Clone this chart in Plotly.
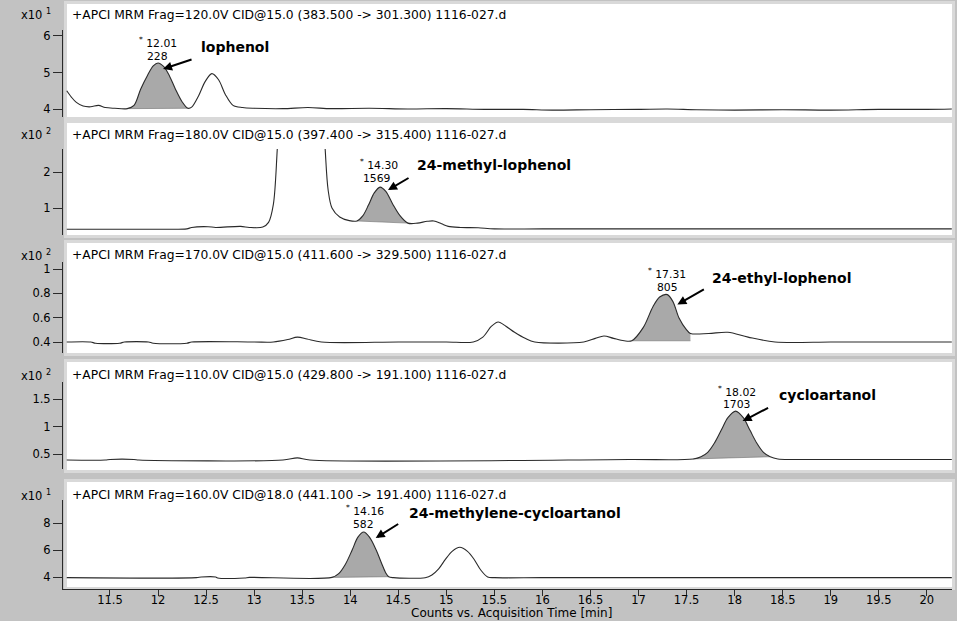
import plotly.graph_objects as go

W, H = 957, 621

# ---------------- data ----------------
# Panel 1: x10^1 counts
t1 = [11.05, 11.10, 11.15, 11.22, 11.30, 11.38, 11.45, 11.55, 11.68, 11.75, 11.82, 11.89, 11.95,
      12.00, 12.06, 12.12, 12.18, 12.25, 12.31, 12.35, 12.42, 12.49, 12.56, 12.63, 12.70, 12.78,
      12.88, 13.00, 13.30, 13.56, 13.80, 14.20, 14.60, 15.00, 15.40, 15.80, 16.10, 16.50, 17.00,
      17.30, 17.60, 18.00, 18.50, 19.00, 19.50, 20.00, 20.26]
v1 = [4.50, 4.32, 4.18, 4.08, 4.06, 4.10, 4.04, 4.02, 4.01, 4.10, 4.55, 4.92, 5.18,
      5.26, 5.16, 4.90, 4.55, 4.20, 4.02, 4.05, 4.35, 4.75, 4.97, 4.80, 4.40, 4.10,
      4.04, 4.02, 4.01, 4.04, 4.01, 4.02, 4.00, 4.01, 3.99, 3.99, 3.97, 3.98, 3.99,
      4.00, 3.98, 3.97, 3.98, 3.97, 3.99, 3.99, 4.00]

# Panel 2: x10^2 counts
t2 = [11.05, 11.50, 12.00, 12.30, 12.35, 12.52, 12.60, 12.86, 12.95, 13.09, 13.15, 13.20, 13.24,
      13.30, 13.48, 13.68, 13.74, 13.77, 13.81, 13.89, 13.99, 14.07, 14.13, 14.19, 14.25, 14.31,
      14.37, 14.44, 14.52, 14.60, 14.70, 14.80, 14.87, 14.95, 15.02, 15.15, 15.33, 15.50, 16.00,
      17.00, 18.00, 19.00, 20.26]
v2 = [0.41, 0.41, 0.41, 0.42, 0.46, 0.48, 0.46, 0.49, 0.46, 0.47, 0.60, 1.10, 2.60,
      6.00, 10.0, 6.00, 2.60, 1.50, 1.00, 0.75, 0.65, 0.64, 0.78, 1.08, 1.42, 1.58,
      1.46, 1.12, 0.78, 0.58, 0.58, 0.63, 0.64, 0.56, 0.49, 0.46, 0.45, 0.42, 0.42,
      0.42, 0.42, 0.42, 0.42]

# Panel 3: x10^2 counts
t3 = [11.05, 11.30, 11.35, 11.60, 11.65, 11.90, 11.95, 12.30, 12.35, 13.00, 13.20, 13.35, 13.45,
      13.55, 13.70, 14.50, 15.00, 15.28, 15.38, 15.47, 15.54, 15.62, 15.71, 15.82, 15.92, 16.43,
      16.55, 16.64, 16.74, 16.85, 16.93, 17.05, 17.15, 17.22, 17.30, 17.36, 17.42, 17.50, 17.54,
      17.73, 17.93, 18.14, 18.42, 19.00, 19.50, 20.26]
v3 = [0.40, 0.40, 0.39, 0.39, 0.40, 0.40, 0.39, 0.39, 0.40, 0.40, 0.40, 0.42, 0.44,
      0.425, 0.40, 0.40, 0.40, 0.40, 0.44, 0.53, 0.565, 0.53, 0.48, 0.43, 0.40, 0.40,
      0.43, 0.45, 0.43, 0.41, 0.41, 0.52, 0.69, 0.77, 0.79, 0.73, 0.60, 0.50, 0.47,
      0.47, 0.48, 0.44, 0.40, 0.40, 0.40, 0.40]

# Panel 4: x10^2 counts
t4 = [11.05, 11.45, 11.50, 11.75, 11.80, 13.30, 13.45, 13.58, 16.90, 17.57, 17.65, 17.72, 17.79,
      17.86, 17.93, 18.01, 18.09, 18.16, 18.23, 18.30, 18.37, 18.45, 18.60, 19.00, 19.50, 20.26]
v4 = [0.39, 0.39, 0.40, 0.40, 0.39, 0.39, 0.43, 0.39, 0.40, 0.41, 0.45, 0.53, 0.70,
      0.93, 1.16, 1.28, 1.16, 0.93, 0.70, 0.53, 0.45, 0.41, 0.40, 0.40, 0.40, 0.40]

# Panel 5: x10^1 counts
t5 = [11.05, 12.40, 12.45, 12.60, 12.62, 12.90, 12.95, 13.81, 13.88, 13.95, 14.02, 14.08, 14.14,
      14.20, 14.27, 14.33, 14.37, 14.40, 14.45, 14.78, 14.85, 14.92, 14.99, 15.06, 15.14, 15.22,
      15.29, 15.36, 15.43, 15.50, 16.00, 17.00, 18.00, 19.00, 20.26]
v5 = [3.95, 3.95, 4.00, 4.00, 3.93, 3.93, 3.97, 3.97, 4.25, 4.95, 6.00, 6.95, 7.33,
      6.95, 6.00, 4.95, 4.30, 4.02, 3.95, 3.95, 4.15, 4.60, 5.30, 5.90, 6.20, 5.90,
      5.30, 4.50, 4.00, 3.95, 3.95, 3.95, 3.95, 3.95, 3.95]

headers = [
    "+APCI MRM Frag=120.0V CID@15.0 (383.500 -&gt; 301.300) 1116-027.d",
    "+APCI MRM Frag=180.0V CID@15.0 (397.400 -&gt; 315.400) 1116-027.d",
    "+APCI MRM Frag=170.0V CID@15.0 (411.600 -&gt; 329.500) 1116-027.d",
    "+APCI MRM Frag=110.0V CID@15.0 (429.800 -&gt; 191.100) 1116-027.d",
    "+APCI MRM Frag=160.0V CID@18.0 (441.100 -&gt; 191.400) 1116-027.d",
]
exponents = ["1", "2", "2", "2", "1"]
compounds = ["lophenol", "24-methyl-lophenol", "24-ethyl-lophenol", "cycloartanol",
             "24-methylene-cycloartanol"]
rt_labels = ["12.01", "14.30", "17.31", "18.02", "14.16"]
areas = ["228", "1569", "805", "1703", "582"]
apex_t = [12.00, 14.31, 17.30, 18.01, 14.14]
apex_v = [5.26, 1.58, 0.79, 1.28, 7.33]
# integration windows (start, end) and baseline levels
win_t = [(11.68, 12.31), (14.07, 14.60), (16.93, 17.54), (17.57, 18.37), (13.81, 14.40)]
win_b = [(4.01, 4.02), (0.64, 0.58), (0.41, 0.41), (0.41, 0.45), (3.97, 4.02)]

ytickvals = [[4, 5, 6], [1, 2], [0.4, 0.6, 0.8, 1], [0.5, 1, 1.5], [4, 6, 8]]
yticktext = [["4", "5", "6"], ["1", "2"], ["0.4", "0.6", "0.8", "1"], ["0.5", "1", "1.5"],
             ["4", "6", "8"]]
yranges = [[3.781, 6.164], [0.25, 2.639], [0.3095, 1.0584], [0.2273, 1.809], [3.111, 9.704]]

xtickvals = [11.5, 12, 12.5, 13, 13.5, 14, 14.5, 15, 15.5, 16, 16.5, 17, 17.5, 18, 18.5,
             19, 19.5, 20]
xticktext = ["11.5", "12", "12.5", "13", "13.5", "14", "14.5", "15", "15.5", "16", "16.5",
             "17", "17.5", "18", "18.5", "19", "19.5", "20"]
xrange_ = [11.011, 20.262]

series_t = [t1, t2, t3, t4, t5]
series_v = [v1, v2, v3, v4, v5]

# ---------------- layout geometry (pixels) ----------------
axis_top = [30, 149, 262, 382, 500]
axis_bot = [117, 235, 353, 469, 589]
white_top = [4, 123, 243, 362, 482]
white_bot = [117, 235, 353, 470, 587]
header_y = [15, 135, 255, 375, 495]
# label offsets relative to apex (pixels)
rt_off = [(0, -21), (-1, -23), (0, -21), (1, -20), (1, -22)]
area_off = [(-1, -7), (-3, -9), (0, -7), (1, -7), (0, -8)]
name_off = [(41, -16), (35, -22), (43, -17), (41, -16), (43, -19)]
head_off = [(5, 6), (8, 3), (10, 10), (7, 10), (12, 6)]
tail_off = [(30, -10), (22, -13), (28, -16), (27, -14), (24, -15)]


def fx(X):
    return X / W


def fy(Y):
    return 1 - Y / H


FONT = "DejaVu Sans"
LINE = "#2a2a2a"
FILL = "#a9a9a9"

fig = go.Figure()
layout = dict(
    template="none",
    width=W, height=H, margin=dict(l=0, r=0, t=0, b=0, pad=0, autoexpand=False),
    paper_bgcolor="#c2c2c2", plot_bgcolor="rgba(0,0,0,0)",
    showlegend=False, shapes=[], annotations=[],
)

for i in range(5):
    n = i + 1
    xa = "x" if n == 1 else f"x{n}"
    ya = "y" if n == 1 else f"y{n}"
    xk = "xaxis" if n == 1 else f"xaxis{n}"
    yk = "yaxis" if n == 1 else f"yaxis{n}"
    t, v = series_t[i], series_v[i]
    s, e = win_t[i]
    seg_t = [tt for tt in t if s <= tt <= e]
    seg_v = [vv for tt, vv in zip(t, v) if s <= tt <= e]
    # baseline of integration
    fig.add_trace(go.Scatter(x=[s, e], y=list(win_b[i]), mode="lines",
                             line=dict(color="#707070", width=0.6), xaxis=xa, yaxis=ya,
                             hoverinfo="skip"))
    fig.add_trace(go.Scatter(x=seg_t, y=seg_v, mode="lines", fill="tonexty", fillcolor=FILL,
                             line=dict(color="rgba(0,0,0,0)", width=0, shape="spline",
                                       smoothing=0.9),
                             xaxis=xa, yaxis=ya, hoverinfo="skip"))
    fig.add_trace(go.Scatter(x=t, y=v, mode="lines",
                             line=dict(color=LINE, width=1.1, shape="spline", smoothing=0.9),
                             xaxis=xa, yaxis=ya))

    dom_y = [fy(axis_bot[i]), fy(axis_top[i])]
    layout[yk] = dict(domain=dom_y, range=yranges[i], anchor=xa, showgrid=False,
                      automargin=False,
                      zeroline=False, showline=True, linecolor=LINE, linewidth=1,
                      ticks="outside", ticklen=9, tickwidth=1, tickcolor=LINE,
                      tickvals=ytickvals[i], ticktext=yticktext[i],
                      tickfont=dict(family=FONT, size=11.5, color="#000"))
    xdict = dict(domain=[fx(63), fx(952)], range=xrange_, anchor=ya, showgrid=False,
                 zeroline=False, automargin=False)
    if n == 5:
        xdict.update(showline=True, linecolor=LINE, linewidth=1, ticks="outside", ticklen=6,
                     tickwidth=1, tickcolor=LINE, tickvals=xtickvals, ticktext=xticktext,
                     ticklabelstandoff=-6,
                     tickfont=dict(family=FONT, size=11.5, color="#000"))
    else:
        xdict.update(visible=False, matches="x5")
    layout[xk] = xdict

    # panel background
    layout["shapes"].append(dict(type="rect", xref="paper", yref="paper", layer="below",
                                 x0=fx(64), x1=fx(955), y0=fy(white_bot[i] + 3),
                                 y1=fy(white_top[i] - 3), fillcolor="#d9d9d9", line_width=0))
    layout["shapes"].append(dict(type="rect", xref="paper", yref="paper", layer="below",
                                 x0=fx(67), x1=fx(952), y0=fy(white_bot[i]),
                                 y1=fy(white_top[i]), fillcolor="#ffffff", line_width=0))

    # header and exponent
    layout["annotations"].append(dict(xref="paper", yref="paper", x=fx(70), y=fy(header_y[i]),
                                      xanchor="left", yanchor="middle", showarrow=False,
                                      text=headers[i],
                                      font=dict(family=FONT, size=12.3, color="#000")))
    layout["annotations"].append(dict(xref="paper", yref="paper", x=fx(53), y=fy(header_y[i]),
                                      xanchor="right", yanchor="middle", showarrow=False,
                                      text=f"x10 <sup>{exponents[i]}</sup>",
                                      font=dict(family=FONT, size=11.5, color="#000")))
    # peak labels
    at, av = apex_t[i], apex_v[i]
    layout["annotations"].append(dict(xref=xa, yref=ya, x=at, y=av, xshift=rt_off[i][0],
                                      yshift=-rt_off[i][1], xanchor="center", yanchor="middle",
                                      showarrow=False, text=f"<sup>*</sup> {rt_labels[i]}",
                                      font=dict(family=FONT, size=10.8, color="#000")))
    layout["annotations"].append(dict(xref=xa, yref=ya, x=at, y=av, xshift=area_off[i][0],
                                      yshift=-area_off[i][1], xanchor="center", yanchor="middle",
                                      showarrow=False, text=areas[i],
                                      font=dict(family=FONT, size=10.8, color="#000")))
    layout["annotations"].append(dict(xref=xa, yref=ya, x=at, y=av, xshift=name_off[i][0],
                                      yshift=-name_off[i][1], xanchor="left", yanchor="middle",
                                      showarrow=False, text=f"<b>{compounds[i]}</b>",
                                      font=dict(family=FONT, size=14, color="#000")))
    layout["annotations"].append(dict(xref=xa, yref=ya, x=at, y=av, xshift=head_off[i][0],
                                      yshift=-head_off[i][1], text="", showarrow=True,
                                      ax=tail_off[i][0], ay=tail_off[i][1], arrowhead=2,
                                      arrowsize=0.9, arrowwidth=2, arrowcolor="#000"))

layout["annotations"].append(dict(xref="paper", yref="paper", x=fx(511), y=fy(613),
                                  xanchor="center", yanchor="middle", showarrow=False,
                                  text="Counts vs. Acquisition Time [min]",
                                  font=dict(family=FONT, size=12, color="#000")))

fig.update_layout(**layout)
fig.write_html("out.html", config={"displayModeBar": False},
               post_script="document.body.style.margin='0';")
